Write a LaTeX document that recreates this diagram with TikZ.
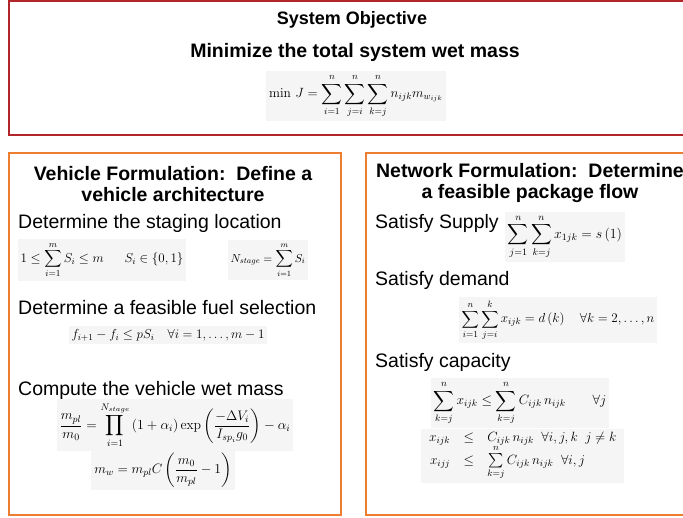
\documentclass[tikz,border=0pt]{standalone}
\usepackage{fix-cm}
\usepackage{amsmath}
\usepackage[no-math]{fontspec}
\setmainfont{Liberation Sans}
\definecolor{objred}{RGB}{178,38,42}
\definecolor{frameorange}{RGB}{237,125,49}
\definecolor{eqback}{RGB}{245,245,245}
\newcommand\eqsz[1]{\fontsize{#1}{#1}\selectfont}
\tikzset{
  frame/.style={line width=2pt},
  boxtitle/.style={font=\fontsize{19.5}{21}\selectfont\bfseries, align=center, inner sep=0pt},
  head/.style={font=\fontsize{19.5}{22}\selectfont, anchor=base west, inner sep=0pt},
  eq/.style={inner sep=3pt, fill=eqback},
}
\begin{document}
\begin{tikzpicture}[x=1pt,y=-1pt]
\useasboundingbox (0,0) rectangle (683,517);

% frames
\draw[frame,objred] (8.5,1) rectangle (700,135);
\draw[frame,frameorange] (9,153) rectangle (340.5,515);
\draw[frame,frameorange] (365.5,153) rectangle (697,515);

% system objective
\node[font=\fontsize{18}{20}\selectfont\bfseries, inner sep=0pt, anchor=base] (objtitle) at (352,24) {System Objective};
\node[font=\fontsize{19.5}{22}\selectfont\bfseries, inner sep=0pt, anchor=base] (objtext) at (355,57) {Minimize the total system wet mass};
\node[eq, font=\eqsz{13.4}] (objeq) at (356,96) {$\displaystyle \min\, J=\sum_{i=1}^{n}\sum_{j=i}^{n}\sum_{k=j}^{n} n_{ijk}m_{w_{ijk}}$};

% vehicle formulation
\node[boxtitle] (vtitle) at (173,184.5) {Vehicle Formulation:\ \ Define a\\vehicle architecture};
\node[head] (vstage) at (18,228) {Determine the staging location};
\node[eq, font=\eqsz{13}] (eqstage) at (102,260) {$\displaystyle 1\le\sum_{i=1}^{m}S_i\le m\hspace{1.6em}S_i\in\{0,1\}$};
\node[eq, font=\eqsz{11.5}] (eqnstage) at (268,260) {$\displaystyle N_{stage}=\sum_{i=1}^{m}S_i$};
\node[head] (vfuel) at (18,314) {Determine a feasible fuel selection};
\node[eq, font=\eqsz{13}] (eqfuel) at (168,335) {$\displaystyle f_{i+1}-f_i\le pS_i\quad\forall i=1,\ldots,m-1$};
\node[head] (vmass) at (18,395) {Compute the vehicle wet mass};
\node[eq, font=\eqsz{13.8}] (eqratio) at (175,425) {$\displaystyle \frac{m_{pl}}{m_0}=\prod_{i=1}^{N_{stage}}\left(1+\alpha_i\right)\exp\left(\frac{-\Delta V_i}{I_{sp_i}g_0}\right)-\alpha_i$};
\node[eq, font=\eqsz{13.6}] (eqwet) at (163,470) {$\displaystyle m_w=m_{pl}C\left(\frac{m_0}{m_{pl}}-1\right)$};

% network formulation
\node[boxtitle] (ntitle) at (530,182.5) {Network Formulation:\ \ Determine\\a feasible package flow};
\node[head] (nsupply) at (375,228) {Satisfy Supply};
\node[eq, font=\eqsz{13.9}] (eqsupply) at (565,237) {$\displaystyle \sum_{j=1}^{n}\sum_{k=j}^{n}x_{1jk}=s\left(1\right)$};
\node[head] (ndemand) at (375,285) {Satisfy demand};
\node[eq, font=\eqsz{13.1}] (eqdemand) at (558,320) {$\displaystyle \sum_{i=1}^{n}\sum_{j=i}^{k}x_{ijk}=d\left(k\right)\quad\forall k=2,\ldots,n$};
\node[head] (ncap) at (375,367) {Satisfy capacity};
\node[eq, font=\eqsz{13.5}] (eqcap) at (520,403) {$\displaystyle \sum_{k=j}^{n}x_{ijk}\le\sum_{k=j}^{n}C_{ijk}\,n_{ijk}\qquad\forall j$};
\node[eq, anchor=west, font=\eqsz{13.4}] (eqcaplines) at (421,456) {$\begin{array}{r@{\quad}c@{\quad}l}
  x_{ijk} & \le & C_{ijk}\,n_{ijk}\ \ \forall i,j,k\ \ j\ne k\\
  x_{ijj} & \le & \sum\limits_{k=j}^{n}C_{ijk}\,n_{ijk}\ \ \forall i,j
\end{array}$};
\end{tikzpicture}
\end{document}
